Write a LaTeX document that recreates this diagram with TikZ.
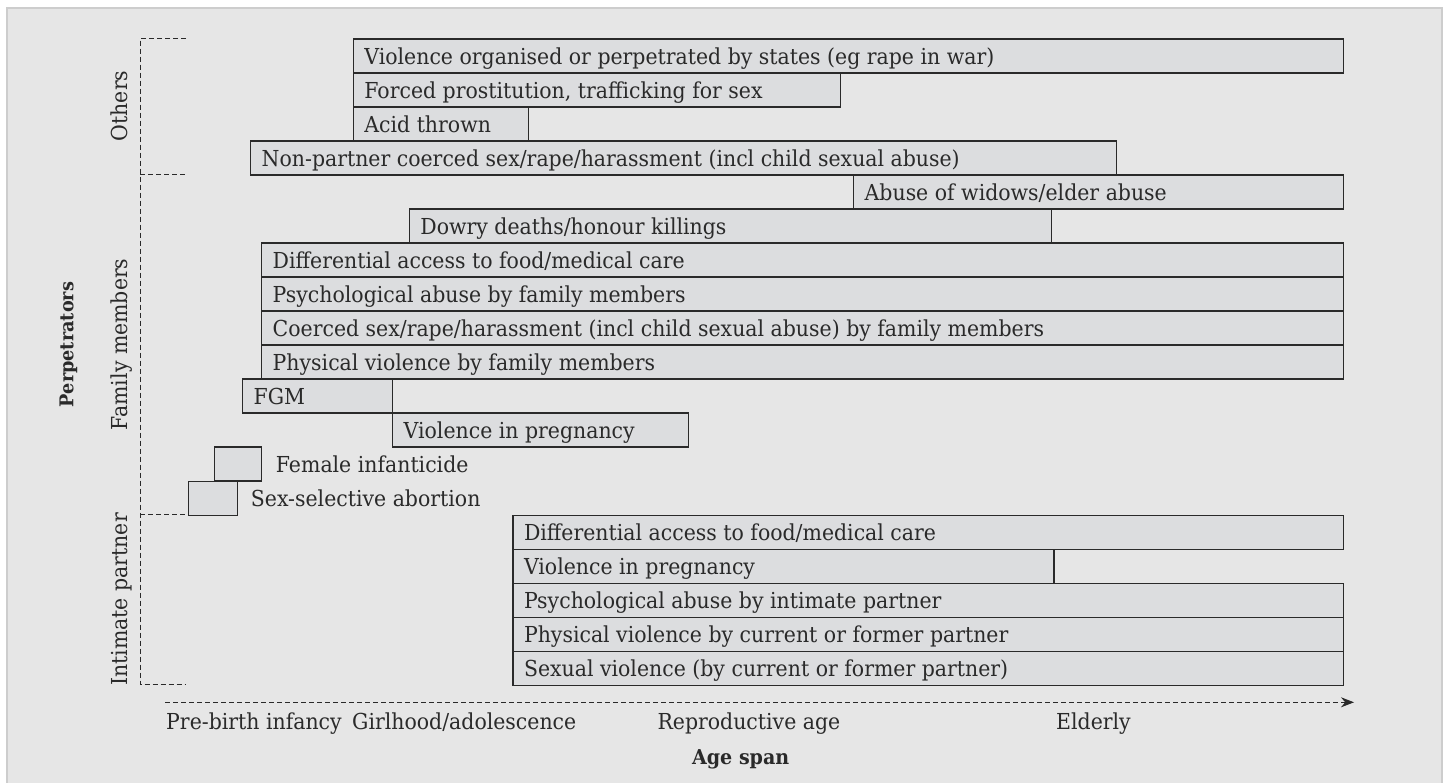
\documentclass[tikz,border=0pt]{standalone}
\usepackage{fontspec}
\setmainfont{DejaVu Serif}[FakeStretch=0.93]
\usetikzlibrary{arrows.meta}
\definecolor{panelbg}{HTML}{E6E6E6}
\definecolor{panelrule}{HTML}{CDCDCD}
\definecolor{barfill}{HTML}{DCDDDF}
\definecolor{ink}{HTML}{2A2A2A}
\newcommand\mkbar[5]{%
  \node[barbox, minimum width={#3-#2}, anchor=north west] (#1) at (#2,#4) {};
  \node[bartext, anchor=base west] (#1t) at ([shift={(11.5pt,-26pt)}]#1.north west) {#5};
}
\begin{document}
\begin{tikzpicture}[x=1pt,y=-1pt,
  barbox/.style={draw=ink, fill=barfill, line width=1.3pt, minimum height=34pt, inner sep=0pt},
  bartext/.style={text=ink, font=\fontsize{22}{26}\selectfont, inner sep=0pt},
  grouptext/.style={text=ink, font=\fontsize{22}{26}\selectfont, inner sep=0pt, rotate=90, anchor=base},
  titletext/.style={text=ink, inner sep=0pt},
  bracket/.style={draw=ink, line width=1.1pt, dash pattern=on 5pt off 3pt},
  axisline/.style={draw=ink, line width=1.1pt, dash pattern=on 5pt off 3pt, -{Stealth[length=13pt,width=10pt]}}
]
\useasboundingbox (0,0) rectangle (1446,782);
\fill[white] (0,0) rectangle (1446,782);
\draw[panelrule, fill=panelbg, line width=2pt] (7,8.3) rectangle (1441.5,795);

% Others
\mkbar{o1}{352.7}{1342.7}{38.3}{Violence organised or perpetrated by states (eg rape in war)}
\mkbar{o2}{352.7}{840}{72.3}{Forced prostitution, trafficking for sex}
\mkbar{o3}{352.7}{527.7}{106.3}{Acid thrown}
\mkbar{o4}{250}{1115.7}{140.3}{Non-partner coerced sex/rape/harassment (incl child sexual abuse)}
% Family members
\mkbar{f1}{853}{1342.7}{174.3}{Abuse of widows/elder abuse}
\mkbar{f2}{408.7}{1051}{208.3}{Dowry deaths/honour killings}
\mkbar{f3}{261}{1342.7}{242.3}{Differential access to food/medical care}
\mkbar{f4}{261}{1342.7}{276.3}{Psychological abuse by family members}
\mkbar{f5}{261}{1342.7}{310.3}{Coerced sex/rape/harassment (incl child sexual abuse) by family members}
\mkbar{f6}{261}{1342.7}{344.3}{Physical violence by family members}
\mkbar{f7}{242}{392}{378.3}{FGM}
\mkbar{f8}{392}{688}{412.3}{Violence in pregnancy}
\node[barbox, minimum width=47.3pt, anchor=north west] (f9) at (213.7,446.3) {};
\node[bartext, anchor=base west] (f9t) at (275.7,472.3) {Female infanticide};
\node[barbox, minimum width=49pt, anchor=north west] (f10) at (187.7,480.5) {};
\node[bartext, anchor=base west] (f10t) at (250.7,506.5) {Sex-selective abortion};
% Intimate partner
\mkbar{p1}{512.3}{1342.7}{514.6}{Differential access to food/medical care}
\mkbar{p2}{512.3}{1053.3}{548.6}{Violence in pregnancy}
\mkbar{p3}{512.3}{1342.7}{582.6}{Psychological abuse by intimate partner}
\mkbar{p4}{512.3}{1342.7}{616.6}{Physical violence by current or former partner}
\mkbar{p5}{512.3}{1342.7}{650.6}{Sexual violence (by current or former partner)}

% brackets
\draw[bracket] (186,38.3) -- (140.3,38.3) -- (140.3,684.4) -- (186,684.4);
\draw[bracket] (140.3,174.3) -- (186,174.3);
\draw[bracket] (140.3,514.6) -- (186,514.6);

\node[grouptext] (gOthers) at (127,106) {Others};
\node[grouptext] (gFamily) at (127,344.5) {Family members};
\node[grouptext] (gPartner) at (127,599.5) {Intimate partner};
\node[titletext, rotate=90, font=\fontsize{19}{23}\selectfont\bfseries] (perp) at (68.5,344.5) {Perpetrators};

% axis
\coordinate (axs) at (165,702.3);
\coordinate (axe) at (1354,702.3);
\draw[axisline] (axs) -- (axe);
\node[bartext, anchor=base west] (a1) at (166,729.3) {Pre-birth infancy};
\node[bartext, anchor=base west] (a2) at (352,729.3) {Girlhood/adolescence};
\node[bartext, anchor=base west] (a3) at (657.3,729.3) {Reproductive age};
\node[bartext, anchor=base west] (a4) at (1056,729.3) {Elderly};
\node[titletext, anchor=base, font=\fontsize{20.5}{24}\selectfont\bfseries] (agespan) at (740.7,764) {Age span};
\end{tikzpicture}
\end{document}
